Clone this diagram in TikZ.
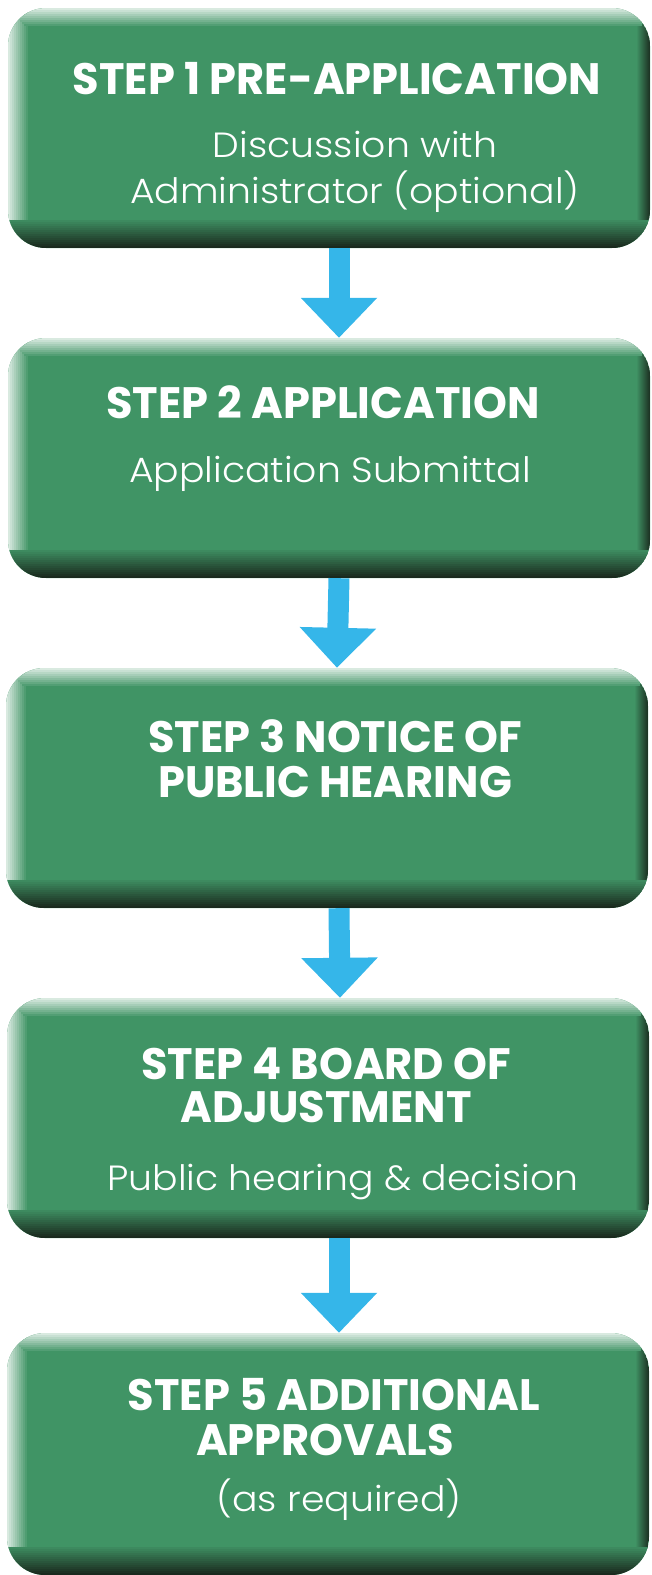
\documentclass[tikz,border=0pt]{standalone}
\usepackage{fontspec}
\setmainfont{Poppins}
\IfFontExistsTF{Poppins Light}{\newfontfamily\subfont[FakeStretch=1.08]{Poppins Light}}{\newfontfamily\subfont[FakeStretch=1.08]{Poppins}}
\newfontfamily\titlefont[FakeStretch=0.98]{Poppins}
\usetikzlibrary{arrows.meta}
\definecolor{boxgreen}{HTML}{409465}
\definecolor{darkedge}{HTML}{1A2A1E}
\definecolor{flowblue}{HTML}{35B6E9}
\colorlet{edgelight}{white!80!boxgreen}
\tikzset{
  stepbox/.style={fill=boxgreen, rounded corners=38pt, minimum width=642pt,
    minimum height=240pt, inner sep=0pt,
    path picture={
      % left highlight
      \foreach \i in {0,...,9}{
        \pgfmathtruncatemacro\p{100-10*\i}
        \fill[sharp corners, edgelight!\p!boxgreen]
          ([xshift=\i*2pt]path picture bounding box.north west) rectangle
          ([xshift=\i*2pt+2.4pt]path picture bounding box.south west);
      }
      % right shade
      \foreach \i in {0,...,12}{
        \pgfmathtruncatemacro\p{90-7*\i}
        \fill[sharp corners, darkedge!\p!boxgreen]
          ([xshift=-\i*1pt]path picture bounding box.north east) rectangle
          ([xshift=-\i*1pt-1.4pt]path picture bounding box.south east);
      }
      % top highlight
      \foreach \i in {0,...,8}{
        \pgfmathtruncatemacro\p{100-11*\i}
        \fill[sharp corners, edgelight!\p!boxgreen]
          ([xshift=\i*2pt, yshift=-\i*2pt]path picture bounding box.north west) rectangle
          ([xshift=-\i*1pt, yshift=-\i*2pt-2.4pt]path picture bounding box.north east);
      }
      % bottom shade
      \foreach \i in {0,...,13}{
        \pgfmathtruncatemacro\p{100-7*\i}
        \fill[sharp corners, darkedge!\p!boxgreen]
          ([yshift=\i*2pt]path picture bounding box.south west) rectangle
          ([yshift=\i*2pt+2.4pt]path picture bounding box.south east);
      }
    }},
  titletext/.style={text=white, inner sep=0pt, anchor=base,
    font=\titlefont\bfseries\fontsize{44}{44}\selectfont},
  subtext/.style={text=white, inner sep=0pt, anchor=base,
    font=\subfont\fontsize{35}{35}\selectfont},
  flow/.style={flowblue, line width=21pt, -{Triangle[width=74pt,length=40pt]}}
}
\begin{document}
\begin{tikzpicture}[x=1pt,y=1pt]
\useasboundingbox (0,0) rectangle (652,-1575);
% boxes
\node[stepbox] (b1) at (329,-128) {};
\node[stepbox] (b2) at (329,-458) {};
\node[stepbox] (b3) at (327,-788) {};
\node[stepbox] (b4) at (328,-1118) {};
\node[stepbox, minimum height=242pt] (b5) at (328,-1454) {};
% arrows
\draw[flow] ([xshift=10pt]b1.south) -- ([xshift=10pt]b2.north);
\draw[flow] ([xshift=10pt]b2.south) -- ([xshift=10pt]b3.north);
\draw[flow] ([xshift=12pt]b3.south) -- ([xshift=12pt]b4.north);
\draw[flow] ([xshift=11pt]b4.south) -- ([xshift=11pt]b5.north);
% texts
\node[titletext] (t1) at (337,-94) {STEP 1 PRE-APPLICATION};
\node[subtext] (s1a) at (355,-157) {Discussion with};
\node[subtext] (s1b) at (355,-203) {Administrator (optional)};
\node[titletext] (t2) at (323,-418) {STEP 2 APPLICATION};
\node[subtext] (s2) at (330,-482) {Application Submittal};
\node[titletext] (t3a) at (335,-752) {STEP 3 NOTICE OF};
\node[titletext] (t3b) at (335,-797) {PUBLIC HEARING};
\node[titletext] (t4a) at (326,-1079) {STEP 4 BOARD OF};
\node[titletext] (t4b) at (326,-1122) {ADJUSTMENT};
\node[subtext] (s4) at (343,-1190) {Public hearing \& decision};
\node[titletext] (t5a) at (334,-1410) {STEP 5 ADDITIONAL};
\node[titletext] (t5b) at (325,-1455) {APPROVALS};
\node[subtext] (s5) at (339,-1511) {(as required)};
\end{tikzpicture}
\end{document}
